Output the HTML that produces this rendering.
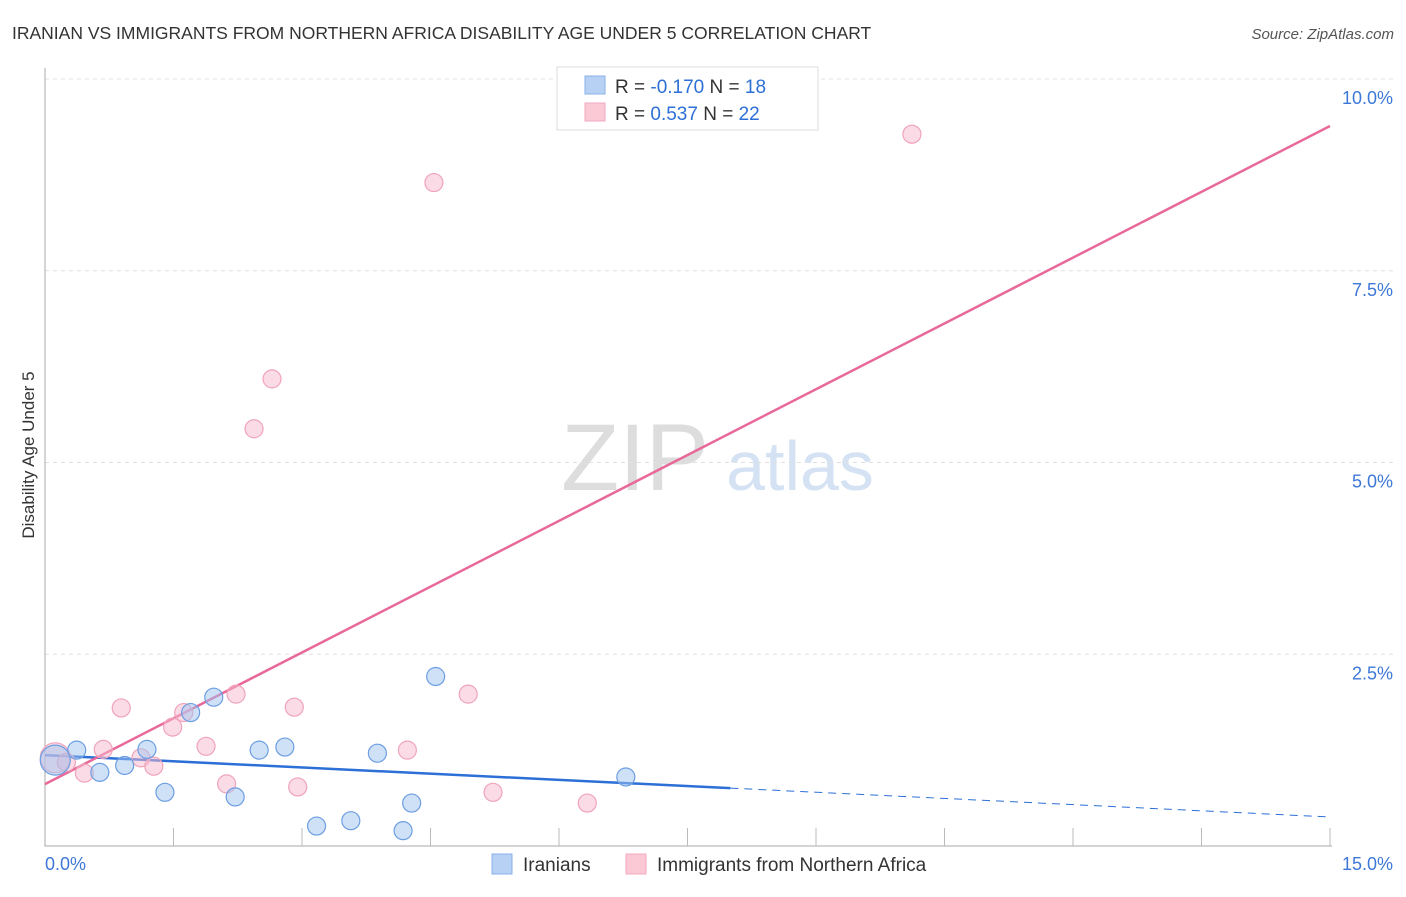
<!DOCTYPE html>
<html><head><meta charset="utf-8"><style>
body{margin:0;background:#fff;font-family:"Liberation Sans",sans-serif;}
svg text{font-family:"Liberation Sans",sans-serif;}
</style></head><body>
<svg id="c" width="1406" height="892">
<text x="12" y="39" font-size="17.5" fill="#333">IRANIAN VS IMMIGRANTS FROM NORTHERN AFRICA DISABILITY AGE UNDER 5 CORRELATION CHART</text>
<text x="1394" y="39" font-size="15" fill="#555" font-style="italic" text-anchor="end">Source: ZipAtlas.com</text>
<g>
<text x="635" y="490" font-size="95" fill="#ddd" font-family="Liberation Serif" text-anchor="middle">ZIP</text>
<text x="800" y="490" font-size="70" fill="#d4e2f4" text-anchor="middle">atlas</text>
</g>
<g id="grid"></g>
<g id="axes"></g>
<g id="lines"></g>
<g id="pts"></g>
<text transform="translate(34,455) rotate(-90)" font-size="17" fill="#333" text-anchor="middle">Disability Age Under 5</text>
<g>
<rect x="557" y="67" width="261" height="63" fill="#fff" stroke="#ddd"/>
<rect x="585" y="76" width="20" height="18" fill="#b7d1f5" stroke="#8ab0e8"/>
<rect x="585" y="103" width="20" height="18" fill="#fbc8d6" stroke="#f0a8bd"/>
<text x="615" y="93" font-size="19" fill="#333">R = <tspan fill="#2c6fd6">-0.170</tspan>   N = <tspan fill="#2c6fd6">18</tspan></text>
<text x="615" y="120" font-size="19" fill="#333">R =  <tspan fill="#2c6fd6">0.537</tspan>   N = <tspan fill="#2c6fd6">22</tspan></text>
</g>
<g>
<rect x="492" y="854" width="20" height="20" fill="#b7d1f5" stroke="#8ab0e8"/>
<text x="523" y="871" font-size="19" fill="#333">Iranians</text>
<rect x="626" y="854" width="20" height="20" fill="#fbc8d6" stroke="#f0a8bd"/>
<text x="657" y="871" font-size="19" fill="#333">Immigrants from Northern Africa</text>
</g>
</svg>
<script>
const blueX=[0.12,0.37,0.64,0.93,1.19,1.40,1.70,1.97,2.22,2.50,2.80,3.17,3.57,3.88,4.18,4.28,4.56,6.78];
const blueY=[1.12,1.25,0.96,1.05,1.26,0.70,1.74,1.94,0.64,1.25,1.29,0.26,0.33,1.21,0.20,0.56,2.21,0.90];
const pinkX=[0.12,0.25,0.46,0.68,0.89,1.12,1.27,1.49,1.62,1.88,2.12,2.23,2.44,2.65,2.91,2.95,4.23,4.54,4.94,5.23,6.33,10.12];
const pinkY=[1.15,1.09,0.95,1.26,1.80,1.15,1.04,1.55,1.74,1.30,0.81,1.98,5.44,6.09,1.81,0.77,1.25,8.65,1.98,0.70,0.56,9.28];
const blueTrend=[1.185,-0.0538];
const pinkTrend=[0.807,0.572];
const yTicks=[2.5,5.0,7.5,10.0];
const xTickLabels=["0.0%","15.0%"];
const X0=45,X1=1330,Y0=846,YT=79;
const sx=v=>X0+v*(X1-X0)/15, sy=v=>Y0-v*(Y0-YT)/10;
const NS="http://www.w3.org/2000/svg";
function mk(t,a,p){const e=document.createElementNS(NS,t);for(const k in a)e.setAttribute(k,a[k]);p.appendChild(e);return e;}
const grid=document.getElementById('grid'),axes=document.getElementById('axes'),lines=document.getElementById('lines'),pts=document.getElementById('pts');
yTicks.forEach(v=>{
 const l=mk('line',{x1:X0,x2:1395,y1:sy(v),y2:sy(v),stroke:'#e0e0e0','stroke-dasharray':'4,4'},grid);
 
 
 const t=mk('text',{x:1393,y:sy(v)+25,'font-size':18,fill:'#3d78d8','text-anchor':'end'},grid);
 t.textContent=v.toFixed(1)+'%';
 
 
});
const ax=mk('path',{d:`M${X0},68V${Y0}H${X1+2}`,stroke:'#aaa',fill:'none'},axes);


for(let i=1;i<=10;i++){const x=sx(i*1.5);const t=mk('line',{x1:x,x2:x,y1:828,y2:Y0,stroke:'#bbb'},axes);
 
 }
[[0,45,'start'],[15,1393,'end']].forEach((d,i)=>{const t=mk('text',{x:d[1],y:870,'font-size':18,fill:'#3d78d8','text-anchor':d[2]},axes);t.textContent=xTickLabels[i];
 
 });
function ty(tr,x){return tr[0]+tr[1]*x;}
let l1=mk('line',{x1:sx(0),y1:sy(ty(blueTrend,0)),x2:sx(8),y2:sy(ty(blueTrend,8)),stroke:'#2c6fd6','stroke-width':2.5},lines);


let l2=mk('line',{x1:sx(8),y1:sy(ty(blueTrend,8)),x2:sx(15),y2:sy(ty(blueTrend,15)),stroke:'#2c6fd6','stroke-width':1,'stroke-dasharray':'8,6'},lines);


let l3=mk('line',{x1:sx(0),y1:sy(ty(pinkTrend,0)),x2:sx(15),y2:sy(ty(pinkTrend,15)),stroke:'#e8689a','stroke-width':2.5},lines);


function dots(xs,ys,fill,stroke,name){xs.forEach((x,i)=>{const c=mk('circle',{cx:sx(x),cy:sy(ys[i]),r:i==0?15:9,fill:fill,stroke:stroke,'stroke-width':1.2},pts);
 
 });}
dots(pinkX,pinkY,'rgba(248,185,205,0.5)','#f0a3bb','immigrants-point');
dots(blueX,blueY,'rgba(160,196,240,0.5)','#6c9ee2','iranians-point');
</script>
</body></html>
